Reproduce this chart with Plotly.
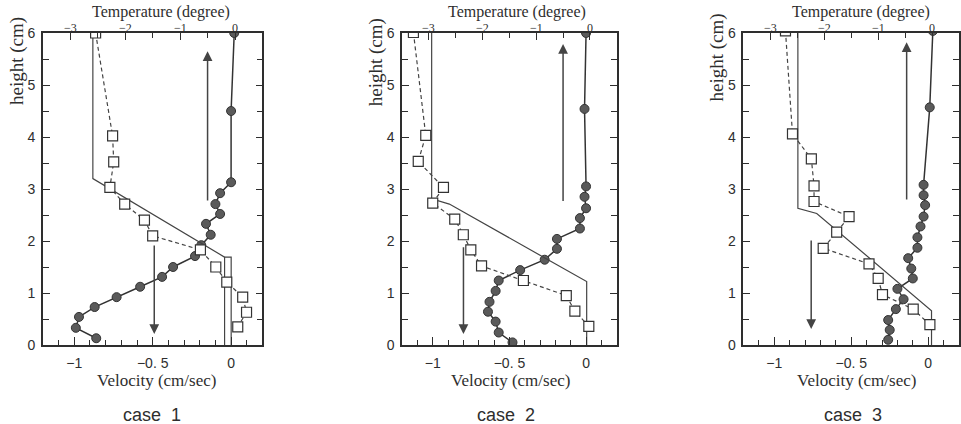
import plotly.graph_objects as go

# ---------------- data ----------------
# case 1
vel_h1 = [6.0, 4.5, 3.13, 2.92, 2.71, 2.52, 2.33, 2.12, 1.92, 1.71, 1.50, 1.31, 1.12, 0.92, 0.73, 0.54, 0.33, 0.13]
vel_v1 = [0.02, 0.0, 0.0, -0.07, -0.10, -0.07, -0.16, -0.13, -0.19, -0.23, -0.37, -0.44, -0.58, -0.73, -0.87, -0.97, -0.99, -0.86]
tmp_h1 = [6.0, 4.02, 3.52, 3.03, 2.71, 2.40, 2.10, 1.83, 1.50, 1.21, 0.92, 0.63, 0.35]
tmp_t1 = [-2.54, -2.23, -2.21, -2.28, -2.01, -1.65, -1.50, -0.63, -0.35, -0.15, 0.14, 0.21, 0.05]
thy_h1 = [6.0, 3.2, 1.69, 0.0, None, 1.69, 1.69, 0.0]
thy_t1 = [-2.59, -2.59, -0.19, -0.19, None, -0.19, -0.07, -0.07]
arr_v1 = [-0.15, -0.49]          # arrow velocity position
arr_from1 = [2.75, 1.94]
arr_to1 = [5.65, 0.21]

# case 2
vel_h2 = [6.0, 4.54, 3.05, 2.85, 2.63, 2.44, 2.24, 2.04, 1.85, 1.64, 1.44, 1.24, 1.04, 0.83, 0.64, 0.45, 0.24, 0.05]
vel_v2 = [0.0, -0.01, 0.0, -0.01, 0.0, -0.04, -0.04, -0.19, -0.19, -0.27, -0.43, -0.57, -0.59, -0.63, -0.64, -0.59, -0.57, -0.48]
tmp_h2 = [6.01, 4.03, 3.53, 3.03, 2.73, 2.42, 2.12, 1.83, 1.52, 1.24, 0.95, 0.65, 0.36]
tmp_t2 = [-3.29, -3.06, -3.20, -2.73, -2.93, -2.52, -2.36, -2.22, -2.02, -1.24, -0.44, -0.28, -0.02]
thy_h2 = [6.0, 2.81, 2.71, 1.22, 0.0]
thy_t2 = [-2.95, -2.95, -2.62, -0.06, -0.06]
arr_v2 = [-0.15, -0.80]
arr_from2 = [2.74, 1.91]
arr_to2 = [5.79, 0.21]

# case 3
vel_h3 = [6.04, 4.57, 3.08, 2.88, 2.69, 2.47, 2.28, 2.07, 1.87, 1.67, 1.47, 1.28, 1.08, 0.88, 0.69, 0.48, 0.29, 0.10]
vel_v3 = [0.03, 0.01, -0.03, -0.03, -0.02, -0.03, -0.05, -0.07, -0.07, -0.13, -0.11, -0.10, -0.20, -0.16, -0.21, -0.26, -0.25, -0.26]
tmp_h3 = [6.04, 4.06, 3.58, 3.06, 2.76, 2.47, 2.17, 1.86, 1.56, 1.28, 0.97, 0.69, 0.39]
tmp_t3 = [-2.72, -2.59, -2.24, -2.19, -2.19, -1.54, -1.77, -2.02, -1.17, -1.00, -0.92, -0.35, -0.04]
thy_h3 = [6.0, 2.63, 2.53, 0.66, 0.0]
thy_t3 = [-2.49, -2.49, -2.14, -0.01, -0.01]
arr_v3 = [-0.14, -0.76]
arr_from3 = [2.77, 2.04]
arr_to3 = [5.82, 0.31]

case_labels = ["case  1", "case  2", "case  3"]
vel_tickvals = [-1, -0.5, 0]
vel_ticktext = ["\u22121", "\u22120. 5", "0"]
tmp_tickvals = [-3, -2, -1, 0]
tmp_ticktext = ["\u22123", "\u22122", "\u22121", "0"]
h_tickvals = [0, 1, 2, 3, 4, 5, 6]

cases = [
    (vel_v1, vel_h1, tmp_t1, tmp_h1, thy_t1, thy_h1, arr_v1, arr_from1, arr_to1),
    (vel_v2, vel_h2, tmp_t2, tmp_h2, thy_t2, thy_h2, arr_v2, arr_from2, arr_to2),
    (vel_v3, vel_h3, tmp_t3, tmp_h3, thy_t3, thy_h3, arr_v3, arr_from3, arr_to3),
]

# ---------------- layout geometry ----------------
W, H = 961, 424
panels_px = [(43, 263), (403, 618), (745, 961)]
domains = [(a / W, min(1.0, b / W)) for a, b in panels_px]
temp_title_x = [161, 518, 863]
vel_title_x = [157, 512, 858]
case_x = [152, 507, 855]
ytitle_x = [17, 377, 718]
ytitle_y = [61, 62, 58]
plot_top, plot_bot = 33, 345

ink = "#2e2e2e"
serif = "Liberation Serif"
sans = "Liberation Sans"

fig = go.Figure()
layout = dict(
    width=W, height=H,
    margin=dict(l=0, r=0, t=plot_top, b=H - plot_bot, pad=0),
    paper_bgcolor="white", plot_bgcolor="white",
    showlegend=False,
)
annotations = []


def px_x(x):
    return x / W


def px_y(y):
    return (plot_bot - y) / (plot_bot - plot_top)


for i, (vv, vh, tt, th, yt, yh, av, af, at) in enumerate(cases):
    xv = "x" if i == 0 else f"x{2 * i + 1}"
    xt = f"x{2 * i + 2}"
    yy = "y" if i == 0 else f"y{i + 1}"
    xv_key = "xaxis" if i == 0 else f"xaxis{2 * i + 1}"
    xt_key = f"xaxis{2 * i + 2}"
    yy_key = "yaxis" if i == 0 else f"yaxis{i + 1}"

    # theory line (temperature)
    fig.add_trace(go.Scatter(x=yt, y=yh, xaxis=xt, yaxis=yy, mode="lines",
                             line=dict(color="#444444", width=1.2), hoverinfo="skip"))
    # temperature squares, dashed
    fig.add_trace(go.Scatter(x=tt, y=th, xaxis=xt, yaxis=yy, mode="lines+markers",
                             line=dict(color="#444444", width=1.2, dash="4px,3px"),
                             marker=dict(symbol="square", size=10, color="white",
                                         line=dict(color="#333333", width=1.2))))
    # velocity circles
    fig.add_trace(go.Scatter(x=vv, y=vh, xaxis=xv, yaxis=yy, mode="lines+markers",
                             line=dict(color="#333333", width=1.5),
                             marker=dict(symbol="circle", size=9, color="#5a5a5a",
                                         line=dict(color="#333333", width=1))))

    layout[xv_key] = dict(
        domain=list(domains[i]), anchor=yy, range=[-1.2, 0.2], side="bottom",
        tickvals=vel_tickvals, ticktext=vel_ticktext, ticks="inside", ticklen=8,
        tickwidth=1, tickcolor=ink, showline=True, linecolor=ink, linewidth=1.5,
        showgrid=False, zeroline=False, ticklabelstandoff=4,
        tickfont=dict(family=sans, size=14, color=ink),
        minor=dict(dtick=0.1, tick0=0, ticks="inside", ticklen=5, tickcolor=ink, showgrid=False),
    )
    layout[xt_key] = dict(
        overlaying=xv, anchor=yy, range=[-3.5, 0.5], side="top",
        tickvals=tmp_tickvals, ticks="inside", ticklen=7, showticklabels=False,
        tickwidth=1, tickcolor=ink, showline=True, linecolor=ink, linewidth=1.5,
        showgrid=False, zeroline=False,
        minor=dict(dtick=0.5, tick0=0, ticks="inside", ticklen=5, tickcolor=ink, showgrid=False),
    )
    layout[yy_key] = dict(
        domain=[0, 1], anchor=xv, range=[0, 6], tickvals=h_tickvals,
        ticks="inside", ticklen=7, tickwidth=1, tickcolor=ink, mirror="ticks",
        showline=True, linecolor=ink, linewidth=1.5, showgrid=False, zeroline=False,
        tickfont=dict(family=sans, size=14, color=ink), ticklabelstandoff=3,
        minor=dict(dtick=0.5, tick0=0, ticks="inside", ticklen=6, tickcolor=ink, showgrid=False),
    )

    # temperature tick labels sitting right on the top axis line
    for tv, tx in zip(tmp_tickvals, tmp_ticktext):
        annotations.append(dict(text=tx, x=tv, xref=xt, y=px_y(28), yref="paper",
                                showarrow=False, xanchor="center", yanchor="middle",
                                font=dict(family=serif, size=12, color=ink)))

    # arrows
    for v, f, t in zip(av, af, at):
        annotations.append(dict(x=v, y=t, ax=v, ay=f, xref=xv, yref=yy, axref=xv, ayref=yy,
                                text="", showarrow=True, arrowhead=2, arrowsize=1.3,
                                arrowwidth=1.5, arrowcolor="#444444"))

    common = dict(xref="paper", yref="paper", showarrow=False, xanchor="center", yanchor="middle")
    annotations.append(dict(text="Temperature (degree)", x=px_x(temp_title_x[i]), y=px_y(12),
                            font=dict(family=serif, size=16, color=ink), **common))
    annotations.append(dict(text="Velocity (cm/sec)", x=px_x(vel_title_x[i]), y=px_y(380),
                            font=dict(family=serif, size=17, color=ink), **common))
    annotations.append(dict(text=case_labels[i], x=px_x(case_x[i]), y=px_y(415),
                            font=dict(family=sans, size=18, color=ink), **common))
    annotations.append(dict(text="height (cm)", x=px_x(ytitle_x[i]), y=px_y(ytitle_y[i]),
                            textangle=-90, font=dict(family=serif, size=19, color=ink), **common))

layout["annotations"] = annotations
fig.update_layout(**layout)
fig.write_html("out.html", config={"displayModeBar": False},
               post_script="document.body.style.margin='0px';")
